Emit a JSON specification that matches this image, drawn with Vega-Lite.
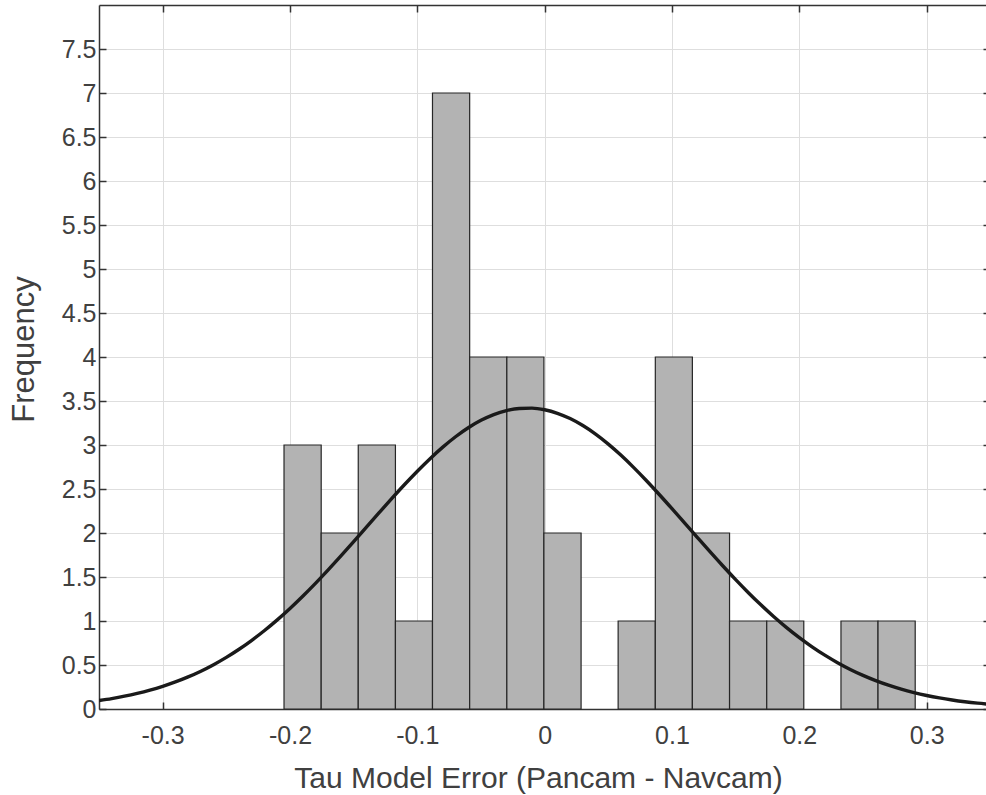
{
  "$schema": "https://vega.github.io/schema/vega-lite/v6.json",
  "autosize": {"type": "none"},
  "padding": {"left": 99, "top": 5, "right": 0, "bottom": 86},
  "width": 887,
  "height": 704,
  "background": "white",
  "config": {
    "font": "Liberation Sans",
    "view": {"stroke": null},
    "axis": {
      "labelFont": "Liberation Sans",
      "titleFont": "Liberation Sans",
      "labelColor": "#404040",
      "titleColor": "#404040",
      "titleFontWeight": "normal",
      "domainColor": "#333333",
      "domainWidth": 1.5,
      "tickColor": "#333333",
      "tickWidth": 1.5,
      "gridColor": "#dedede",
      "gridWidth": 1
    }
  },
  "datasets": {
    "bins": [
      {"lo": -0.2047, "hi": -0.1755, "count": 3},
      {"lo": -0.1755, "hi": -0.1464, "count": 2},
      {"lo": -0.1464, "hi": -0.1172, "count": 3},
      {"lo": -0.1172, "hi": -0.0881, "count": 1},
      {"lo": -0.0881, "hi": -0.0589, "count": 7},
      {"lo": -0.0589, "hi": -0.0297, "count": 4},
      {"lo": -0.0297, "hi": -0.0006, "count": 4},
      {"lo": -0.0006, "hi": 0.0286, "count": 2},
      {"lo": 0.0577, "hi": 0.0869, "count": 1},
      {"lo": 0.0869, "hi": 0.1160, "count": 4},
      {"lo": 0.1160, "hi": 0.1452, "count": 2},
      {"lo": 0.1452, "hi": 0.1744, "count": 1},
      {"lo": 0.1744, "hi": 0.2035, "count": 1},
      {"lo": 0.2327, "hi": 0.2618, "count": 1},
      {"lo": 0.2618, "hi": 0.2910, "count": 1}
    ],
    "fit": [
      {"x": -0.35, "y": 0.0963}, {"x": -0.34, "y": 0.1187}, {"x": -0.33, "y": 0.1454},
      {"x": -0.32, "y": 0.1770}, {"x": -0.31, "y": 0.2140}, {"x": -0.30, "y": 0.2572},
      {"x": -0.29, "y": 0.3072}, {"x": -0.28, "y": 0.3645}, {"x": -0.27, "y": 0.4299},
      {"x": -0.26, "y": 0.5038}, {"x": -0.25, "y": 0.5867}, {"x": -0.24, "y": 0.6788},
      {"x": -0.23, "y": 0.7808}, {"x": -0.22, "y": 0.8921}, {"x": -0.21, "y": 1.0129},
      {"x": -0.20, "y": 1.1429}, {"x": -0.19, "y": 1.2815}, {"x": -0.18, "y": 1.4279},
      {"x": -0.17, "y": 1.5810}, {"x": -0.16, "y": 1.7395}, {"x": -0.15, "y": 1.9017},
      {"x": -0.14, "y": 2.0662}, {"x": -0.13, "y": 2.2306}, {"x": -0.12, "y": 2.3930},
      {"x": -0.11, "y": 2.5512}, {"x": -0.10, "y": 2.7024}, {"x": -0.09, "y": 2.8449},
      {"x": -0.08, "y": 2.9759}, {"x": -0.07, "y": 3.0936}, {"x": -0.06, "y": 3.1955},
      {"x": -0.05, "y": 3.2800}, {"x": -0.04, "y": 3.3456}, {"x": -0.03, "y": 3.3911},
      {"x": -0.02, "y": 3.4156}, {"x": -0.01, "y": 3.4186}, {"x": 0.00, "y": 3.4001},
      {"x": 0.01, "y": 3.3605}, {"x": 0.02, "y": 3.3004}, {"x": 0.03, "y": 3.2209},
      {"x": 0.04, "y": 3.1237}, {"x": 0.05, "y": 3.0103}, {"x": 0.06, "y": 2.8828},
      {"x": 0.07, "y": 2.7433}, {"x": 0.08, "y": 2.5941}, {"x": 0.09, "y": 2.4377},
      {"x": 0.10, "y": 2.2763}, {"x": 0.11, "y": 2.1123}, {"x": 0.12, "y": 1.9477},
      {"x": 0.13, "y": 1.7845}, {"x": 0.14, "y": 1.6249}, {"x": 0.15, "y": 1.4702},
      {"x": 0.16, "y": 1.3218}, {"x": 0.17, "y": 1.1809}, {"x": 0.18, "y": 1.0485},
      {"x": 0.19, "y": 0.9250}, {"x": 0.20, "y": 0.8108}, {"x": 0.21, "y": 0.7065},
      {"x": 0.22, "y": 0.6116}, {"x": 0.23, "y": 0.5260}, {"x": 0.24, "y": 0.4497},
      {"x": 0.25, "y": 0.3820}, {"x": 0.26, "y": 0.3225}, {"x": 0.27, "y": 0.2705},
      {"x": 0.28, "y": 0.2254}, {"x": 0.29, "y": 0.1868}, {"x": 0.30, "y": 0.1537},
      {"x": 0.31, "y": 0.1257}, {"x": 0.32, "y": 0.1022}, {"x": 0.33, "y": 0.0825},
      {"x": 0.34, "y": 0.0662}, {"x": 0.35, "y": 0.0528}
    ]
  },
  "layer": [
    {
      "data": {"name": "bins"},
      "mark": {"type": "rect", "fill": "#b3b3b3", "stroke": "#262626", "strokeWidth": 1.2},
      "encoding": {
        "x": {
          "field": "lo",
          "type": "quantitative",
          "scale": {"domain": [-0.35, 0.3466], "nice": false, "zero": false},
          "axis": {
            "orient": "bottom",
            "title": "Tau Model Error (Pancam - Navcam)",
            "titleFontSize": 30,
            "titleX": 439,
            "titleY": 78,
            "titleBaseline": "alphabetic",
            "titleAlign": "center",
            "values": [-0.3, -0.2, -0.1, 0, 0.1, 0.2, 0.3],
            "format": "~g",
            "labelExpr": "replace(datum.label, '\u2212', '-')",
            "labelFontSize": 25,
            "labelBaseline": "alphabetic",
            "labelPadding": 41,
            "labelFlush": false,
            "grid": true,
            "tickSize": -7
          }
        },
        "x2": {"field": "hi"},
        "y": {
          "field": "count",
          "type": "quantitative",
          "scale": {"domain": [0, 8], "nice": false},
          "axis": {
            "orient": "left",
            "title": "Frequency",
            "titleFontSize": 31,
            "titleAngle": -90,
            "titleX": -66,
            "titleY": 344,
            "titleBaseline": "alphabetic",
            "titleAlign": "center",
            "values": [0, 0.5, 1, 1.5, 2, 2.5, 3, 3.5, 4, 4.5, 5, 5.5, 6, 6.5, 7, 7.5],
            "format": "~g",
            "labelFontSize": 25,
            "labelPadding": 10,
            "labelFlush": false,
            "grid": true,
            "tickSize": -7
          }
        },
        "y2": {"datum": 0}
      }
    },
    {
      "data": {"name": "fit"},
      "mark": {"type": "line", "color": "#1a1a1a", "strokeWidth": 3.4, "clip": true, "interpolate": "monotone"},
      "encoding": {
        "x": {
          "field": "x",
          "type": "quantitative",
          "axis": {
            "orient": "top",
            "title": null,
            "values": [-0.3, -0.2, -0.1, 0, 0.1, 0.2, 0.3],
            "labels": false,
            "grid": false,
            "tickSize": -7
          }
        },
        "y": {
          "field": "y",
          "type": "quantitative",
          "axis": {
            "orient": "right",
            "title": null,
            "values": [0, 0.5, 1, 1.5, 2, 2.5, 3, 3.5, 4, 4.5, 5, 5.5, 6, 6.5, 7, 7.5],
            "labels": false,
            "grid": false,
            "domain": false,
            "tickSize": -3
          }
        }
      }
    }
  ],
  "resolve": {"axis": {"x": "independent", "y": "independent"}}
}
